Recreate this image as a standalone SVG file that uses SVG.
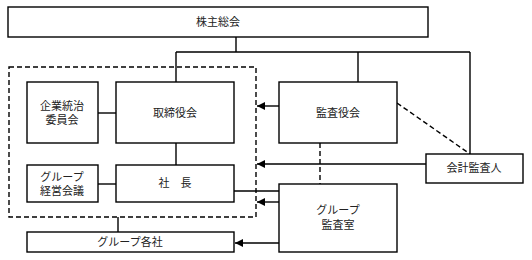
<svg xmlns="http://www.w3.org/2000/svg" width="532" height="260" viewBox="0 0 532 260">
<style>
.box{fill:#fff;stroke:#000;stroke-width:1.4}
.ln{fill:none;stroke:#000;stroke-width:1.4}
.dash{fill:none;stroke:#000;stroke-width:1.4;stroke-dasharray:5,3}
text{font-family:"Liberation Serif","Noto Sans CJK JP",serif;font-size:11px;fill:#222;text-anchor:middle}
</style>
<defs>
<marker id="ah" markerWidth="8" markerHeight="8" refX="8" refY="4" orient="auto" markerUnits="userSpaceOnUse">
<path d="M0,0 L8,4 L0,8 Z" fill="#000"/>
</marker>
</defs>
<rect width="532" height="260" fill="#fff"/>
<g id="connectors">
<path class="ln" d="M236,37 V52 M176,52 H470 M176,52 V82 M358,52 V82 M470,52 V154"/>
<path class="ln" d="M98,113 H116"/>
<path class="ln" d="M176,143 V165"/>
<path class="ln" d="M98,184 H116"/>
<path class="ln" d="M234,191 H279"/>
<path class="ln" d="M118,217 V232"/>
<path class="dash" d="M9,67 H256 V217 H9 Z"/>
<path class="dash" d="M397,103 L470,154"/>
<path class="dash" d="M320,143 V184"/>
<path class="ln" d="M279,106 H257" marker-end="url(#ah)"/>
<path class="ln" d="M426,164 H257" marker-end="url(#ah)"/>
<path class="ln" d="M279,202 H257" marker-end="url(#ah)"/>
<path class="ln" d="M279,243 H235" marker-end="url(#ah)"/>
</g>
<g id="shareholders"><rect class="box" x="8" y="7" width="420" height="30"/><text x="218" y="26">株主総会</text></g>
<g id="governance"><rect class="box" x="27" y="82" width="71" height="61"/><text x="62" y="110">企業統治</text><text x="62" y="124">委員会</text></g>
<g id="board"><rect class="box" x="116" y="82" width="118" height="61"/><text x="175" y="117">取締役会</text></g>
<g id="auditboard"><rect class="box" x="279" y="82" width="118" height="61"/><text x="338" y="117">監査役会</text></g>
<g id="auditor"><rect class="box" x="426" y="154" width="97" height="29"/><text x="474" y="172">会計監査人</text></g>
<g id="groupmeeting"><rect class="box" x="27" y="165" width="71" height="37"/><text x="62" y="181">グループ</text><text x="62" y="195">経営会議</text></g>
<g id="president"><rect class="box" x="116" y="165" width="118" height="37"/><text x="175" y="187">社　長</text></g>
<g id="groupaudit"><rect class="box" x="279" y="184" width="118" height="68"/><text x="338" y="214">グループ</text><text x="338" y="229">監査室</text></g>
<g id="companies"><rect class="box" x="27" y="232" width="207" height="20"/><text x="130" y="246">グループ各社</text></g>
</svg>
